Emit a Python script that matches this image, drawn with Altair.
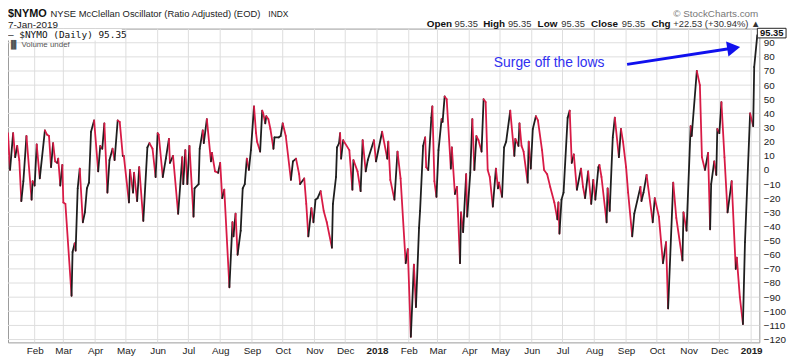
import altair as alt
import pandas as pd
import numpy as np

# ---------------- data ----------------
dates = [
    "2017-01-06", "2017-01-08", "2017-01-11", "2017-01-13", "2017-01-15", "2017-01-17", "2017-01-19", "2017-01-21",
    "2017-01-24", "2017-01-29", "2017-01-30", "2017-02-01", "2017-02-03", "2017-02-06", "2017-02-11", "2017-02-13",
    "2017-02-15", "2017-02-17", "2017-02-19", "2017-02-21", "2017-02-23", "2017-02-24", "2017-02-26", "2017-02-28",
    "2017-03-01", "2017-03-03", "2017-03-09", "2017-03-10", "2017-03-12", "2017-03-13", "2017-03-15", "2017-03-17",
    "2017-03-20", "2017-03-22", "2017-03-24", "2017-03-26", "2017-03-28", "2017-03-31", "2017-04-04", "2017-04-06",
    "2017-04-08", "2017-04-10", "2017-04-13", "2017-04-15", "2017-04-18", "2017-04-20", "2017-04-23", "2017-04-25",
    "2017-04-28", "2017-04-29", "2017-05-04", "2017-05-05", "2017-05-08", "2017-05-09", "2017-05-12", "2017-05-14",
    "2017-05-18", "2017-05-22", "2017-05-24", "2017-05-27", "2017-05-30", "2017-06-01", "2017-06-02", "2017-06-06",
    "2017-06-09", "2017-06-12", "2017-06-13", "2017-06-16", "2017-06-21", "2017-06-25", "2017-06-26", "2017-06-28",
    "2017-06-30", "2017-07-02", "2017-07-06", "2017-07-07", "2017-07-11", "2017-07-12", "2017-07-15", "2017-07-16",
    "2017-07-19", "2017-07-23", "2017-07-24", "2017-07-27", "2017-07-30", "2017-08-01", "2017-08-03", "2017-08-05",
    "2017-08-10", "2017-08-13", "2017-08-14", "2017-08-16", "2017-08-18", "2017-08-21", "2017-08-23", "2017-08-25",
    "2017-08-27", "2017-08-29", "2017-08-31", "2017-09-03", "2017-09-05", "2017-09-06", "2017-09-09", "2017-09-11",
    "2017-09-12", "2017-09-14", "2017-09-15", "2017-09-17", "2017-09-19", "2017-09-22", "2017-09-23", "2017-09-27",
    "2017-09-29", "2017-10-01", "2017-10-04", "2017-10-09", "2017-10-11", "2017-10-14", "2017-10-17", "2017-10-18",
    "2017-10-22", "2017-10-24", "2017-10-26", "2017-10-29", "2017-10-31", "2017-11-02", "2017-11-04", "2017-11-07",
    "2017-11-10", "2017-11-13", "2017-11-18", "2017-11-19", "2017-11-22", "2017-11-23", "2017-11-25", "2017-11-26",
    "2017-11-27", "2017-11-29", "2017-12-05", "2017-12-08", "2017-12-09", "2017-12-13", "2017-12-16", "2017-12-18",
    "2017-12-21", "2017-12-23", "2017-12-29", "2017-12-31",
    "2018-01-06", "2018-01-11", "2018-01-12", "2018-01-14", "2018-01-18", "2018-01-21", "2018-01-24", "2018-01-29",
    "2018-01-31", "2018-02-03", "2018-02-06", "2018-02-08", "2018-02-11", "2018-02-12", "2018-02-15", "2018-02-17",
    "2018-02-18", "2018-02-20", "2018-02-23", "2018-02-24", "2018-02-26", "2018-02-28", "2018-03-02", "2018-03-05",
    "2018-03-06", "2018-03-08", "2018-03-10", "2018-03-14", "2018-03-15", "2018-03-18", "2018-03-20", "2018-03-23",
    "2018-03-24", "2018-03-26", "2018-03-29", "2018-03-30", "2018-04-02", "2018-04-04", "2018-04-06", "2018-04-08",
    "2018-04-10", "2018-04-13", "2018-04-15", "2018-04-17", "2018-04-19", "2018-04-21", "2018-04-24", "2018-04-27",
    "2018-04-29", "2018-04-30", "2018-05-03", "2018-05-05", "2018-05-07", "2018-05-11", "2018-05-15", "2018-05-16",
    "2018-05-19", "2018-05-20", "2018-05-22", "2018-05-24", "2018-05-28", "2018-05-29", "2018-05-31", "2018-06-02",
    "2018-06-05", "2018-06-07", "2018-06-11", "2018-06-13", "2018-06-16", "2018-06-19", "2018-06-23", "2018-06-26",
    "2018-06-27", "2018-06-28", "2018-06-30", "2018-07-02", "2018-07-06", "2018-07-08", "2018-07-10", "2018-07-12",
    "2018-07-15", "2018-07-19", "2018-07-21", "2018-07-23", "2018-07-26", "2018-07-29", "2018-07-31", "2018-08-02",
    "2018-08-05", "2018-08-06", "2018-08-08", "2018-08-13", "2018-08-14", "2018-08-16", "2018-08-19", "2018-08-21",
    "2018-08-25", "2018-08-27", "2018-08-29", "2018-09-01", "2018-09-03", "2018-09-07", "2018-09-09", "2018-09-15",
    "2018-09-16", "2018-09-18", "2018-09-21", "2018-09-27", "2018-09-29", "2018-10-03", "2018-10-07", "2018-10-10",
    "2018-10-12", "2018-10-17", "2018-10-20", "2018-10-26", "2018-10-27", "2018-10-30", "2018-11-03", "2018-11-04",
    "2018-11-09", "2018-11-12", "2018-11-14", "2018-11-17", "2018-11-20", "2018-11-22", "2018-11-23", "2018-11-26",
    "2018-11-28", "2018-11-29", "2018-12-01", "2018-12-03", "2018-12-06", "2018-12-09", "2018-12-13", "2018-12-17",
    "2018-12-18", "2018-12-21", "2018-12-24", "2018-12-26", "2018-12-31",
    "2019-01-03", "2019-01-04", "2019-01-07",
]

values = [
    26, 0, 26, 9, 17, 7, -22, -8,
    24, -21, -8, -11, 18, -6, 28, 25,
    24, 2, 19, 6, 5, 8, -11, 3.5,
    -23, -24, -89, -58, -52, -57, -13, 1,
    -37, -30, -13, -9, 27, 35, -1, 17,
    15, 33, -16, 7, 15, 7, 35, 34,
    10, 10, -23, 0, -16, -2, -22, 2,
    -36, 16, 19, 15, -5, 26, 25, -5,
    8, 22, 5, 10, -31, 9, -10, 14,
    -10, 17, -33, -13, -10, 15, 28, 19,
    36, 6, 12, -1, -2, 5, -20, -14,
    -83, -37, -47, -31, -60, -43, -13, -10,
    8, 0, 14, 45, 26, 20, 13, 42,
    40, 33, 38, 36, 29, 15, 23, 23,
    24, 33, 24, -7, 6, 8, -3, -10,
    -6, -24, -47, -27, -37, -21, -20, -15,
    -29, -37, -55, -24, -5, 16, 19, 26,
    8, 21, 14, -14, 7, -1, -15, 21,
    -1, 7, 21, 6,
    27, 8, 20, -7, -21, 13, -6, -66,
    -56, -118, -67, -97, -41, -29, 17, 23,
    2, 0, 37, 45, -8, -19, 14, 36,
    34, 52, 50, 1, 16, -17, -12, -66,
    -30, -44, -3, -33, -2, 36, 0, 24,
    21, 13, 50, 48, 0, -5, -26, 1,
    -13, -9, -19, 16, 20, 42, 10, 22,
    17, 33, 17, 13, -9, 20, 1, 29,
    38, 35, 14, 0, -3, -12, -23, -35,
    -23, -45, -21, -16, 37, 42, 5, 11,
    -14, 1, -12, -20, -1, -24, -7, -21,
    2, 3.5, -5, -37, -13, -29, 23, 37,
    9, 29, 20, 2, -16, -47, -31, -12,
    -22, -16, -3.5, -37, -20, -33, -66, -51,
    -98, -9, -34, -64, -30, -43, 31, 24,
    70, 60, 9, 0, 12, -42, -10, 6,
    -3.5, 29, 26, 48, 9, -30, -8, -70,
    -62, -90, -109, -51, 40,
    31, 72.82, 95.35,
]

month_ticks = [(2017, m) for m in range(2, 13)] + [(2018, m) for m in range(1, 13)] + [(2019, 1)]
y_ticks = list(range(-120, 100, 10))

note_text = "Surge off the lows"
note_date, note_value = "2018-04-25", 75.3
arrow_from = ("2018-09-02", 74.7)
arrow_to = ("2018-12-15", 86.3)
last_label = "95.35"
last_box = (93.4, 100.2)   # extent of the last-value tag on the right axis
last_mid = 96.8

# ---------------- build tables ----------------
df = pd.DataFrame({"date": pd.to_datetime(dates), "value": values})
seg = pd.DataFrame({
    "date": df["date"].iloc[:-1].values,
    "date2": df["date"].iloc[1:].values,
    "value": df["value"].iloc[:-1].values,
    "value2": df["value"].iloc[1:].values,
})
seg["dir"] = np.where(seg["value2"] >= seg["value"], "up", "down")

vgrid = pd.DataFrame({"date": [pd.Timestamp(year=y, month=m, day=1) for y, m in month_ticks]})
hgrid = pd.DataFrame({"value": y_ticks})

FONT = "Liberation Sans"
GRID = "#dedede"

x_scale = alt.Scale(domain=[alt.DateTime(year=2017, month=1, date=6),
                            alt.DateTime(year=2019, month=1, date=9)])
y_scale = alt.Scale(domain=[-122, 100], nice=False, zero=False)

x_axis = alt.Axis(
    values=[alt.DateTime(year=y, month=m, date=1) for y, m in month_ticks],
    labelExpr="month(datum.value) == 0 ? timeFormat(datum.value, '%Y') : timeFormat(datum.value, '%b')",
    labelFontWeight={"condition": {"test": "month(datum.value) == 0", "value": "bold"}, "value": "normal"},
    title=None, ticks=False, domain=False, grid=False,
    labelPadding=3, labelOverlap=False, labelFont=FONT, labelFontSize=10, labelColor="#222",
)
y_axis = alt.Axis(
    orient="right", values=y_ticks, title=None, ticks=False, domain=False, grid=False,
    labelAlign="left", labelBaseline="middle", labelPadding=4,
    labelOverlap=False, labelFont=FONT, labelFontSize=10, labelColor="#222",
)


def X(field):
    return alt.X(field, scale=x_scale, axis=x_axis)


def Y(field):
    return alt.Y(field, scale=y_scale, axis=y_axis)


vlines = alt.Chart(vgrid).mark_rule(color=GRID, strokeWidth=1).encode(x=X("date:T"))
hlines = alt.Chart(hgrid).mark_rule(color=GRID, strokeWidth=1).encode(y=Y("value:Q"))

lines = alt.Chart(seg).mark_rule(strokeWidth=1.8, strokeCap="round").encode(
    x=X("date:T"),
    x2="date2:T",
    y=Y("value:Q"),
    y2="value2:Q",
    color=alt.Color("dir:N", scale=alt.Scale(domain=["up", "down"], range=["#1e1e1e", "#d81b46"]), legend=None),
)

arrow_df = pd.DataFrame({
    "date": [pd.Timestamp(arrow_from[0])], "value": [arrow_from[1]],
    "date2": [pd.Timestamp(arrow_to[0])], "value2": [arrow_to[1]],
})
arrow = alt.Chart(arrow_df).mark_rule(color="#1010ee", strokeWidth=3).encode(
    x=X("date:T"), x2="date2:T", y=Y("value:Q"), y2="value2:Q")
head_df = pd.DataFrame({"date": [pd.Timestamp(arrow_to[0])], "value": [arrow_to[1]]})
head = alt.Chart(head_df).mark_point(shape="triangle-right", filled=True, opacity=1,
                                     color="#1010ee", size=230, angle=351).encode(
    x=X("date:T"), y=Y("value:Q"))

note_df = pd.DataFrame({"date": [pd.Timestamp(note_date)], "value": [note_value], "label": [note_text]})
note = alt.Chart(note_df).mark_text(align="left", baseline="middle", font=FONT, fontSize=14,
                                    color="#3030f0").encode(x=X("date:T"), y=Y("value:Q"), text="label:N")

box_df = pd.DataFrame({"value": [last_box[1]], "value2": [last_box[0]], "label": [last_label],
                       "mid": [last_mid]})
box = alt.Chart(box_df).mark_rect(fill="white", stroke="#222", strokeWidth=1).encode(
    x=alt.value(757), x2=alt.value(786), y=Y("value:Q"), y2="value2:Q")
box_text = alt.Chart(box_df).mark_text(align="center", baseline="middle", font=FONT, fontSize=9.5,
                                       fontWeight="bold", color="#111").encode(
    x=alt.value(771.5), y=Y("mid:Q"), text="label:N")


def label(text, x, y, size=10, weight="normal", color="#111", font=FONT, align="left"):
    return alt.Chart(pd.DataFrame({"t": [text]})).mark_text(
        align=align, baseline="middle", font=font, fontSize=size, fontWeight=weight, color=color
    ).encode(x=alt.value(x), y=alt.value(y), text="t:N")


legend_bg = alt.Chart(pd.DataFrame({"t": [""]})).mark_rect(fill="white").encode(
    x=alt.value(0), x2=alt.value(115), y=alt.value(0.5), y2=alt.value(12))

header = [
    label("$NYMO", 0, -14.5, size=11, weight="bold"),
    label("NYSE McClellan Oscillator (Ratio Adjusted) (EOD)", 43, -14.5, size=9.5, color="#222"),
    label("INDX", 263, -14.5, size=8.5, color="#222"),
    label("7-Jan-2019", 0, -4, size=10, color="#222"),
    label("\u00a9 StockCharts.com", 758, -14.5, size=10, color="#777", align="right"),
    label("Open", 423, -4.5, size=10, weight="bold"),
    label("95.35", 451, -4.5, size=9.5, color="#333"),
    label("High", 480, -4.5, size=10, weight="bold"),
    label("95.35", 505, -4.5, size=9.5, color="#333"),
    label("Low", 535, -4.5, size=10, weight="bold"),
    label("95.35", 559, -4.5, size=9.5, color="#333"),
    label("Close", 589, -4.5, size=10, weight="bold"),
    label("95.35", 620, -4.5, size=9.5, color="#333"),
    label("Chg", 650, -4.5, size=10, weight="bold"),
    label("+22.53 (+30.94%) \u25b2", 672, -4.5, size=9.5, color="#333"),
    legend_bg,
    label("\u2014 $NYMO (Daily) 95.35", 0, 6, size=9.5, font="DejaVu Sans Mono", color="#111"),
    label("\u2590\u258c Volume undef", 0, 17, size=8, color="#555"),
]

chart = alt.layer(vlines, hlines, lines, arrow, head, note, box, box_text, *header).properties(
    width=759, height=317,
    autosize=alt.AutoSizeParams(type="none"),
    padding={"left": 0, "top": 19, "right": 33, "bottom": 17},
).configure_view(stroke="#9a9a9a", strokeWidth=1)

chart.save("out.html", embed_options={"renderer": "svg", "actions": False})
